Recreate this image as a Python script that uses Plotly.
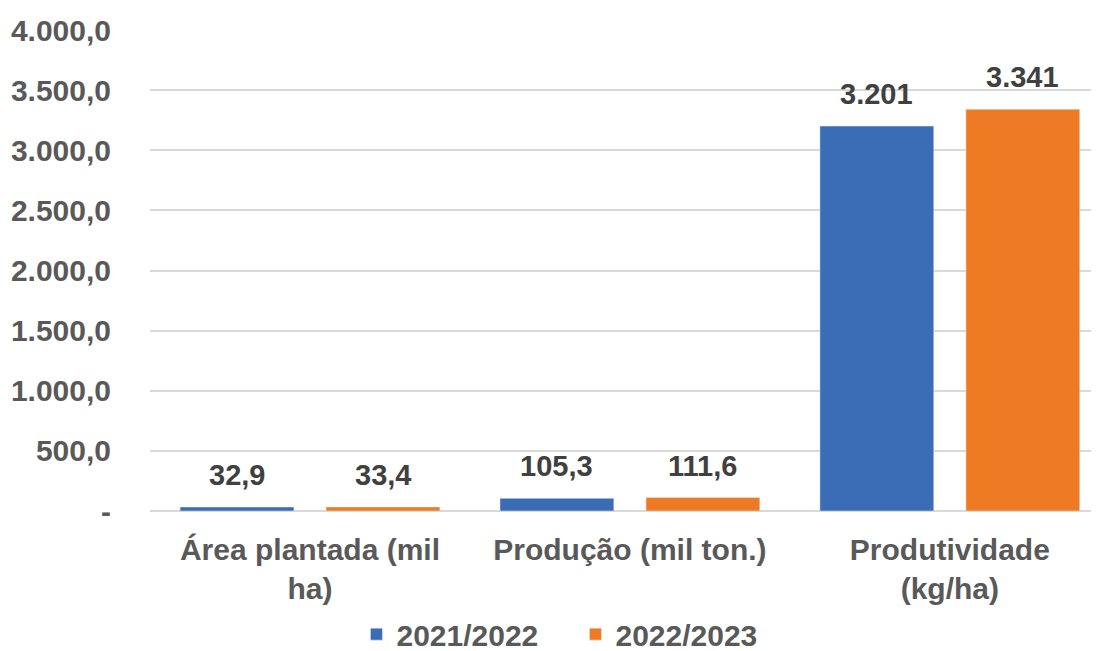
import plotly.graph_objects as go

categorias = ["Área plantada (mil<br>ha)", "Produção (mil ton.)", "Produtividade<br>(kg/ha)"]
safra_2122 = [32.9, 105.3, 3201]
safra_2223 = [33.4, 111.6, 3341]
rotulos_2122 = ["32,9", "105,3", "3.201"]
rotulos_2223 = ["33,4", "111,6", "3.341"]
y_ticks = [0, 500, 1000, 1500, 2000, 2500, 3000, 3500, 4000]
y_ticktext = ["-", "500,0", "1.000,0", "1.500,0", "2.000,0", "2.500,0", "3.000,0", "3.500,0", "4.000,0"]

fonte = "Liberation Sans, Arial, sans-serif"
cinza = "#595959"
escuro = "#404040"
tam = 30

fig = go.Figure()
fig.add_trace(go.Bar(x=categorias, y=safra_2122, name="2021/2022", marker=dict(color="#3A6DB5")))
fig.add_trace(go.Bar(x=categorias, y=safra_2223, name="2022/2023", marker=dict(color="#EE7B24")))

# rótulos de dados acima das barras
for serie, rotulos, desloc in [(safra_2122, rotulos_2122, -73), (safra_2223, rotulos_2223, 73)]:
    for cat, val, rot in zip(categorias, serie, rotulos):
        fig.add_annotation(x=cat, y=val, text=rot, showarrow=False, xref="x", yref="y",
                           xshift=desloc, yanchor="bottom", yshift=14,
                           font=dict(size=29, color=escuro, family=fonte, weight="bold"))

# a página tem 8px de margem no body, por isso a figura é um pouco menor
fig.update_layout(
    width=1091, height=643,
    margin=dict(l=142, r=2, t=22, b=140, autoexpand=False),
    paper_bgcolor="white", plot_bgcolor="white",
    font=dict(family=fonte, size=tam, color=cinza, weight="bold"),
    bargap=0.0875, bargroupgap=0.22,
    showlegend=True,
    legend=dict(orientation="h", x=0.218, xanchor="left", y=-0.256, yanchor="middle",
                font=dict(size=tam, color=cinza, family=fonte, weight="bold"),
                itemwidth=30, entrywidth=174, entrywidthmode="pixels", traceorder="normal"),
    yaxis=dict(range=[0, 4000], tickvals=y_ticks, ticktext=y_ticktext, automargin=False,
               showgrid=True, gridcolor="#D9D9D9", gridwidth=1.5,
               zeroline=True, zerolinecolor="#D9D9D9", zerolinewidth=1.5,
               ticks="", ticklabelstandoff=38,
               tickfont=dict(size=tam, color=cinza, family=fonte, weight="bold")),
    xaxis=dict(range=[-0.5, 2.46], showgrid=False, showline=False, ticks="", automargin=False,
               ticklabelstandoff=18,
               tickfont=dict(size=tam, color=cinza, family=fonte, weight="bold")),
)

fig.write_html("out.html")
